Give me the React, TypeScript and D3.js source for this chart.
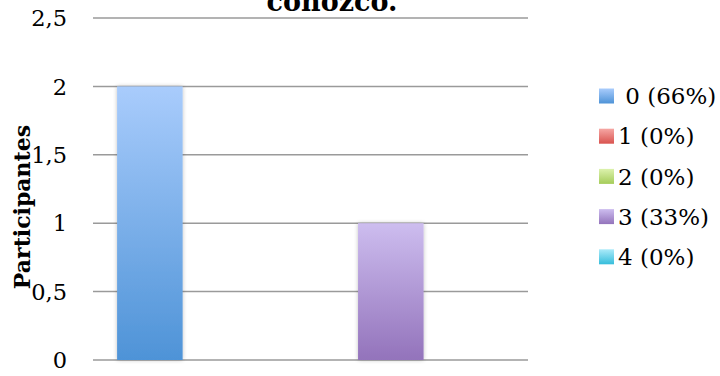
import React from "react";
import * as d3 from "d3";

const seriesLabels = [" 0 (66%)", "1 (0%)", "2 (0%)", "3 (33%)", "4 (0%)"];
const seriesValues = [2, 0, 0, 1, 0];
const yTicks = [0, 0.5, 1, 1.5, 2, 2.5];
const colorsTop = ["#a9ccfc", "#f6a7a4", "#dcf2ad", "#cdbdef", "#abeaf9"];
const colorsBottom = ["#4e93d7", "#d9534f", "#a5cc5a", "#9373bb", "#35bddb"];
const titleText = "conozco.";
const yTitle = "Participantes";

export default function App() {
  const W = 720, H = 376;
  const x0 = 93, x1 = 528;
  const y = d3.scaleLinear().domain([0, 2.5]).range([360, 18]);
  const xb = d3.scaleBand<number>().domain(d3.range(seriesValues.length)).range([x0, x1]).paddingInner(0.184).paddingOuter(0.3);
  const fmt = (v: number) => String(v).replace(".", ",");
  const font = "'DejaVu Serif', serif";
  return (
    <svg width={W} height={H} style={{ position: "absolute", left: 0, top: 0, background: "#fff" }}>
      <defs>
        {seriesValues.map((_, i) => (
          <linearGradient key={i} id={`g${i}`} x1="0" y1="0" x2="0" y2="1">
            <stop offset="0%" stopColor={colorsTop[i]} />
            <stop offset="100%" stopColor={colorsBottom[i]} />
          </linearGradient>
        ))}
        <filter id="sh" x="-20%" y="-5%" width="140%" height="110%">
          <feGaussianBlur in="SourceAlpha" stdDeviation="2" />
          <feOffset dx="0" dy="0" result="b" />
          <feComponentTransfer><feFuncA type="linear" slope="0.25" /></feComponentTransfer>
          <feMerge><feMergeNode /><feMergeNode in="SourceGraphic" /></feMerge>
        </filter>
      </defs>
      {yTicks.map((t) => (
        <g key={t}>
          <line x1={x0} x2={x1} y1={y(t)} y2={y(t)} stroke="#9a9a9a" strokeWidth={1.5} />
          <text x={67} y={y(t)} dy="0.36em" textAnchor="end" fontFamily={font} fontSize={22.5} fill="#000">{fmt(t)}</text>
        </g>
      ))}
      {seriesValues.map((v, i) => v > 0 ? (
        <rect key={i} x={xb(i)} y={y(v)} width={xb.bandwidth()} height={y(0) - y(v)} fill={`url(#g${i})`} filter="url(#sh)" />
      ) : null)}
      <text x={332} y={11} textAnchor="middle" fontFamily={font} fontWeight="bold" fontSize={27} fill="#000">{titleText}</text>
      <text transform={`translate(29.5,207) rotate(-90)`} textAnchor="middle" fontFamily={font} fontWeight="bold" fontSize={22} fill="#000">{yTitle}</text>
      {seriesLabels.map((l, i) => (
        <g key={i} transform={`translate(599,${96 + 40.2 * i})`}>
          <rect x={0} y={-7.5} width={15} height={15} fill={`url(#g${i})`} />
          <text x={19} y={0} dy="0.36em" fontFamily={font} fontSize={23} fill="#000" style={{ whiteSpace: "pre" }}>{l}</text>
        </g>
      ))}
    </svg>
  );
}
